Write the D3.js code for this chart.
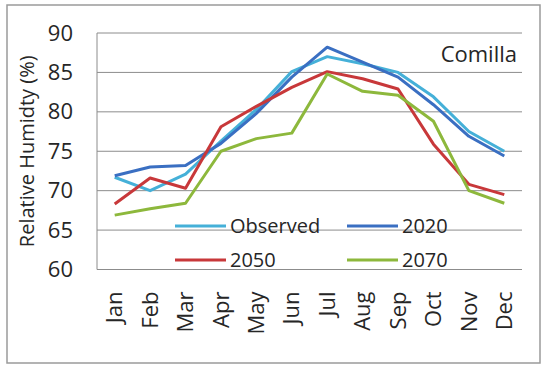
<!DOCTYPE html>
<html>
<head>
<meta charset="utf-8">
<script src="https://cdn.jsdelivr.net/npm/d3@7"></script>
<style>
  html, body { margin: 0; padding: 0; background: #fff; }
  svg { display: block; }
  text { font-family: "Open Sans", "DejaVu Sans", sans-serif; fill: #262626; }
</style>
</head>
<body>
<svg id="chart" width="543" height="366"></svg>
<script>
// Monthly relative humidity (%) for Comilla: observed and projected
const months = ["Jan", "Feb", "Mar", "Apr", "May", "Jun", "Jul", "Aug", "Sep", "Oct", "Nov", "Dec"];
const observed = [71.7, 70.0, 72.1, 76.3, 80.3, 85.1, 87.0, 86.1, 85.0, 81.9, 77.5, 75.0];
const y2020   = [71.9, 73.0, 73.2, 76.0, 79.8, 84.4, 88.2, 86.3, 84.4, 80.9, 76.9, 74.4];
const y2050   = [68.3, 71.6, 70.3, 78.1, 80.7, 83.1, 85.1, 84.2, 82.9, 75.9, 70.8, 69.5];
const y2070   = [66.9, 67.7, 68.4, 75.0, 76.6, 77.3, 84.8, 82.6, 82.1, 78.8, 70.0, 68.4];
const seriesNames = ["Observed", "2020", "2050", "2070"];
const seriesColors = ["#45b0d8", "#3a6fc2", "#c8383a", "#8db83c"];
const yTicks = [60, 65, 70, 75, 80, 85, 90];

const series = [observed, y2020, y2050, y2070].map((v, i) => ({
  name: seriesNames[i], color: seriesColors[i], values: v
}));

const svg = d3.select("#chart");
const plot = { left: 97, right: 522, top: 33, bottom: 269.5 };

// Outer frame
svg.append("rect")
  .attr("x", 7).attr("y", 5).attr("width", 533).attr("height", 358)
  .attr("fill", "#fff").attr("stroke", "#9a9a9a").attr("stroke-width", 1.5);

const x = d3.scaleBand().domain(months).range([plot.left, plot.right]);
const y = d3.scaleLinear().domain([60, 90]).range([plot.bottom, plot.top]);

// Horizontal gridlines
svg.append("g")
  .selectAll("line").data(yTicks).join("line")
  .attr("x1", plot.left).attr("x2", plot.right)
  .attr("y1", d => y(d)).attr("y2", d => y(d))
  .attr("stroke", "#8c8c8c").attr("stroke-width", 1);

// Left axis line
svg.append("line")
  .attr("x1", plot.left).attr("x2", plot.left)
  .attr("y1", plot.top).attr("y2", plot.bottom)
  .attr("stroke", "#8c8c8c").attr("stroke-width", 1);

// Y axis labels
const yAxis = d3.axisLeft(y).tickValues(yTicks).tickSize(0).tickPadding(24);
const gy = svg.append("g").attr("transform", `translate(${plot.left},0)`).call(yAxis);
gy.select(".domain").remove();
gy.selectAll("text")
  .style("font-family", '"Open Sans", sans-serif')
  .style("font-size", "22px").attr("fill", "#262626");

// X axis labels (rotated)
const xAxis = d3.axisBottom(x).tickSize(0).tickPadding(0);
const gx = svg.append("g").attr("transform", `translate(0,${plot.bottom})`).call(xAxis);
gx.select(".domain").remove();
gx.selectAll("text")
  .style("font-family", '"Open Sans", sans-serif')
  .style("font-size", "22px").attr("fill", "#262626")
  .attr("transform", "rotate(-90)")
  .attr("text-anchor", "end")
  .attr("x", -22).attr("y", 0).attr("dy", "0.35em");

// Y axis title
svg.append("text")
  .attr("transform", `translate(34,${(plot.top + plot.bottom) / 2}) rotate(-90)`)
  .attr("text-anchor", "middle")
  .style("font-size", "20px")
  .text("Relative Humidty (%)");

// Series lines
const line = d3.line()
  .x((d, i) => x(months[i]) + x.bandwidth() / 2)
  .y(d => y(d));

svg.append("g").selectAll("path").data(series).join("path")
  .attr("d", d => line(d.values))
  .attr("fill", "none")
  .attr("stroke", d => d.color)
  .attr("stroke-width", 3)
  .attr("stroke-linejoin", "round");

// Station label
svg.append("text")
  .attr("x", 517).attr("y", 62)
  .attr("text-anchor", "end")
  .style("font-size", "22px")
  .text("Comilla");

// Legend (2 x 2)
const legendPos = [
  { lx: 175, ty: 226 }, { lx: 347, ty: 226 },
  { lx: 175, ty: 260 }, { lx: 347, ty: 260 }
];
const lg = svg.append("g").selectAll("g").data(series).join("g")
  .attr("transform", (d, i) => `translate(${legendPos[i].lx},${legendPos[i].ty})`);
lg.append("line")
  .attr("x1", 0).attr("x2", 51).attr("y1", 0).attr("y2", 0)
  .attr("stroke", d => d.color).attr("stroke-width", 3);
lg.append("text")
  .attr("x", 55).attr("y", 0).attr("dy", "0.36em")
  .style("font-size", "20px")
  .text(d => d.name);
</script>
</body>
</html>
